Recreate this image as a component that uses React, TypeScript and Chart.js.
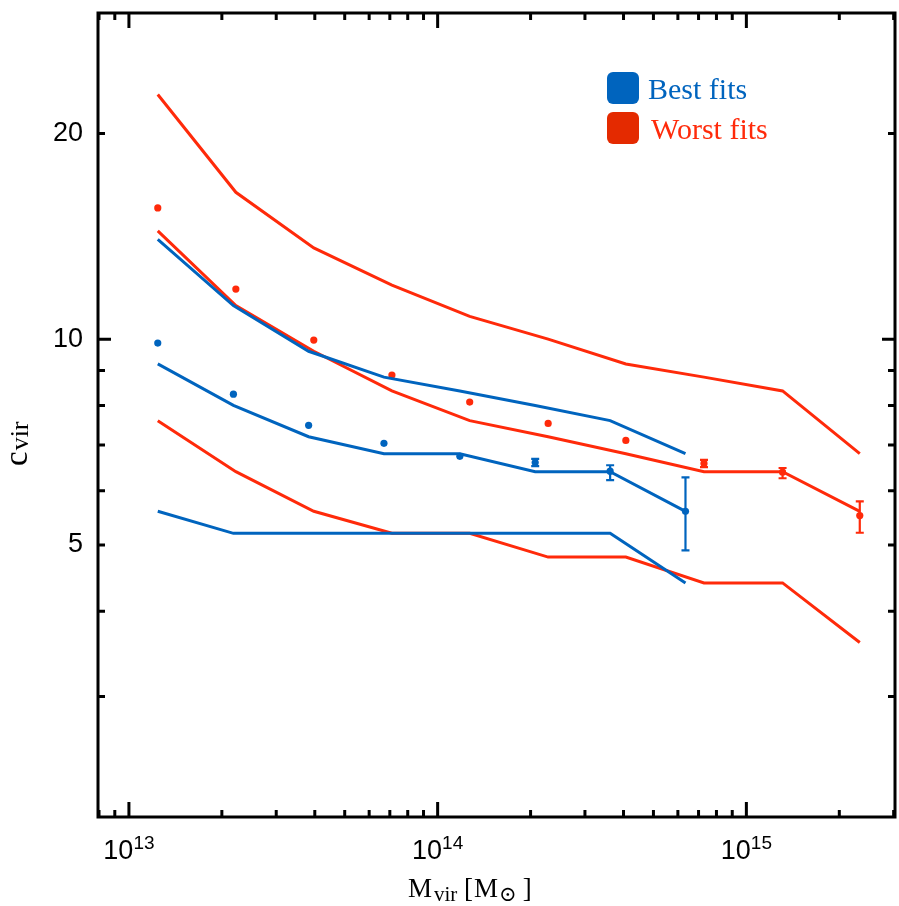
import React, { useEffect, useRef } from 'react';
import { Chart, registerables } from 'chart.js';
Chart.register(...registerables);

// Halo masses (M_sun) of the bins
const blueMass = [1.24e13, 2.18e13, 3.82e13, 6.70e13, 1.18e14, 2.07e14, 3.62e14, 6.35e14];
const redMass = [1.24e13, 2.22e13, 3.97e13, 7.11e13, 1.27e14, 2.28e14, 4.07e14, 7.29e14, 1.31e15, 2.33e15];

// Best fits: percentile lines
const blueUpper = [14.0, 11.2, 9.6, 8.8, 8.4, 8.0, 7.6, 6.8];
const blueMedian = [9.2, 8.0, 7.2, 6.8, 6.8, 6.4, 6.4, 5.6];
const blueLower = [5.6, 5.2, 5.2, 5.2, 5.2, 5.2, 5.2, 4.4];
// Best fits: mean points and errors
const blueMean = [9.87, 8.31, 7.48, 7.04, 6.74, 6.60, 6.41, 5.60];
const blueErrUp = [0, 0, 0, 0, 0, 0.08, 0.13, 0.68];
const blueErrDn = [0, 0, 0, 0, 0, 0.08, 0.19, 0.69];

// Worst fits: percentile lines
const redUpper = [22.8, 16.4, 13.6, 12.0, 10.8, 10.0, 9.2, 8.8, 8.4, 6.8];
const redMedian = [14.4, 11.2, 9.6, 8.4, 7.6, 7.2, 6.8, 6.4, 6.4, 5.6];
const redLower = [7.6, 6.4, 5.6, 5.2, 5.2, 4.8, 4.8, 4.4, 4.4, 3.6];
// Worst fits: mean points and errors
const redMean = [15.56, 11.84, 9.97, 8.86, 8.09, 7.53, 7.11, 6.58, 6.39, 5.52];
const redErrUp = [0, 0, 0, 0, 0, 0, 0, 0.08, 0.09, 0.27];
const redErrDn = [0, 0, 0, 0, 0, 0, 0, 0.08, 0.13, 0.31];

// Axes
const xMin = 7.94e12;
const xMax = 3.03e15;
const yMin = 2.0;
const yMax = 30.0;
const xMajorExps = [13, 14, 15];
const yTickValues = [3, 4, 5, 6, 7, 8, 9, 10, 20];
const yLabelValues = [5, 10, 20];
const yMajorValues = [10];

const legendLabels = ['Best fits', 'Worst fits'];

const BLUE = '#0064be';
const RED = '#ff2a0a';
const RED_LEGEND = '#e42a00';

export default function App() {
  const ref = useRef<HTMLCanvasElement>(null);

  useEffect(() => {
    document.body.style.margin = '0';
    const canvas = ref.current!;
    const pts = (xs: number[], ys: number[]) => xs.map((x, i) => ({ x, y: ys[i] }));
    const lineDs = (label: string, xs: number[], ys: number[], color: string) => ({
      label,
      data: pts(xs, ys),
      showLine: true,
      borderColor: color,
      backgroundColor: color,
      borderWidth: 3,
      pointRadius: 0,
      pointHoverRadius: 0,
      fill: false,
      tension: 0,
      borderJoinStyle: 'miter',
    });
    const dotDs = (label: string, xs: number[], ys: number[], color: string, up: number[], dn: number[]) => ({
      label,
      data: pts(xs, ys),
      showLine: false,
      pointRadius: 3.6,
      pointBorderWidth: 0,
      pointBackgroundColor: color,
      backgroundColor: color,
      borderColor: color,
      errUp: up,
      errDn: dn,
    });

    const errorBars = {
      id: 'errorBars',
      afterDatasetsDraw(chart: any) {
        const c = chart.ctx;
        const xs = chart.scales.x;
        const ys = chart.scales.y;
        chart.data.datasets.forEach((ds: any) => {
          if (!ds.errUp) return;
          c.save();
          c.strokeStyle = ds.borderColor;
          c.lineWidth = 2.2;
          ds.data.forEach((p: any, i: number) => {
            const u = ds.errUp[i];
            const d = ds.errDn[i];
            if (!u && !d) return;
            const px = xs.getPixelForValue(p.x);
            const pt = ys.getPixelForValue(p.y + u);
            const pb = ys.getPixelForValue(p.y - d);
            c.beginPath();
            c.moveTo(px, pt);
            c.lineTo(px, pb);
            c.moveTo(px - 4, pt);
            c.lineTo(px + 4, pt);
            c.moveTo(px - 4, pb);
            c.lineTo(px + 4, pb);
            c.stroke();
          });
          c.restore();
        });
      },
    };

    const frame = {
      id: 'frame',
      afterDraw(chart: any) {
        const c = chart.ctx;
        const a = chart.chartArea;
        const xs = chart.scales.x;
        const ys = chart.scales.y;
        c.save();
        c.strokeStyle = '#000';
        c.lineWidth = 3;
        c.lineCap = 'butt';
        c.strokeRect(a.left, a.top, a.right - a.left, a.bottom - a.top);
        // x ticks
        c.beginPath();
        for (let e = 12; e <= 15; e++) {
          for (let m = 1; m <= 9; m++) {
            const v = m * Math.pow(10, e);
            if (v <= xMin || v >= xMax) continue;
            const px = xs.getPixelForValue(v);
            const len = m === 1 ? 15 : 7;
            c.moveTo(px, a.bottom);
            c.lineTo(px, a.bottom - len);
            c.moveTo(px, a.top);
            c.lineTo(px, a.top + len);
          }
        }
        // y ticks
        yTickValues.forEach((v) => {
          const py = ys.getPixelForValue(v);
          const len = yMajorValues.includes(v) ? 13 : 7;
          c.moveTo(a.left, py);
          c.lineTo(a.left + len, py);
          c.moveTo(a.right, py);
          c.lineTo(a.right - len, py);
        });
        c.stroke();

        // x tick labels 10^n
        c.fillStyle = '#000';
        c.textBaseline = 'alphabetic';
        c.textAlign = 'left';
        const mainF = '27px "Liberation Sans", Arial, Helvetica, sans-serif';
        const supF = '19px "Liberation Sans", Arial, Helvetica, sans-serif';
        xMajorExps.forEach((e) => {
          const px = xs.getPixelForValue(Math.pow(10, e));
          c.font = mainF;
          const w1 = c.measureText('10').width;
          c.font = supF;
          const w2 = c.measureText(String(e)).width;
          const start = px - (w1 + w2) / 2;
          c.font = mainF;
          c.fillText('10', start, 859);
          c.font = supF;
          c.fillText(String(e), start + w1, 849);
        });

        // x title
        const serif = '"Liberation Serif", "Times New Roman", "DejaVu Serif", serif';
        const segs = [
          { t: 'M', s: 27, dy: 0, gap: 2 },
          { t: 'vir', s: 21, dy: 4, gap: 0 },
          { t: ' [', s: 27, dy: 0, gap: 1 },
          { t: 'M', s: 27, dy: 0, gap: 1 },
          { t: '\u2299', s: 21, dy: 4, gap: 6 },
          { t: ']', s: 27, dy: 0, gap: 0 },
        ];
        let x = a.left + 310;
        segs.forEach((sg) => {
          c.font = `${sg.s}px ${serif}`;
          c.fillText(sg.t, x, 897 + sg.dy);
          x += c.measureText(sg.t).width + sg.gap;
        });

        // y title
        c.save();
        c.translate(27, 466);
        c.rotate(-Math.PI / 2);
        c.font = `33px ${serif}`;
        c.fillText('c', 0, 0);
        const wc = c.measureText('c').width;
        c.font = `26px ${serif}`;
        c.fillText('vir', wc + 1, 1);
        c.restore();

        // legend
        const colors = [BLUE, RED_LEGEND];
        const textColors = [BLUE, RED];
        legendLabels.forEach((lab, i) => {
          const top = a.top + 59 + i * 40;
          c.fillStyle = colors[i];
          c.beginPath();
          (c as any).roundRect(a.left + 509, top, 32, 32, 6);
          c.fill();
          c.fillStyle = textColors[i];
          c.font = `30px ${serif}`;
          c.fillText(lab, a.left + 550 + (i === 1 ? 3 : 0), top + 27);
        });
        c.restore();
      },
    };

    const chart = new Chart(canvas, {
      type: 'scatter',
      data: {
        datasets: [
          lineDs('Best upper', blueMass, blueUpper, BLUE),
          lineDs('Best median', blueMass, blueMedian, BLUE),
          lineDs('Best lower', blueMass, blueLower, BLUE),
          lineDs('Worst upper', redMass, redUpper, RED),
          lineDs('Worst median', redMass, redMedian, RED),
          lineDs('Worst lower', redMass, redLower, RED),
          dotDs('Best mean', blueMass, blueMean, BLUE, blueErrUp, blueErrDn),
          dotDs('Worst mean', redMass, redMean, RED, redErrUp, redErrDn),
        ] as any,
      },
      options: {
        responsive: false,
        animation: false,
        devicePixelRatio: 1,
        layout: { padding: { left: 0, right: 2, top: 13, bottom: 0 } },
        plugins: { legend: { display: false }, tooltip: { enabled: false } },
        events: [],
        scales: {
          x: {
            type: 'logarithmic',
            min: xMin,
            max: xMax,
            bounds: 'data',
            grid: { display: false, drawTicks: false },
            border: { display: false },
            ticks: { display: false },
            afterBuildTicks: (s: any) => {
              s.ticks = xMajorExps.map((e) => ({ value: Math.pow(10, e) }));
            },
            afterFit: (s: any) => {
              s.height = 89;
              s.paddingLeft = 0;
              s.paddingRight = 0;
            },
          },
          y: {
            type: 'logarithmic',
            min: yMin,
            max: yMax,
            bounds: 'data',
            grid: { display: false, drawTicks: false },
            border: { display: false },
            ticks: {
              color: '#000',
              padding: 15,
              autoSkip: false,
              font: { family: '"Liberation Sans", Arial, Helvetica, sans-serif', size: 27 },
              callback: (v: any) => (yLabelValues.includes(Number(v)) ? String(v) : ''),
            },
            afterBuildTicks: (s: any) => {
              s.ticks = yTickValues.map((v) => ({ value: v }));
            },
            afterFit: (s: any) => {
              s.width = 98;
              s.paddingTop = 0;
              s.paddingBottom = 0;
            },
          },
        },
      } as any,
      plugins: [errorBars, frame],
    });
    return () => chart.destroy();
  }, []);

  return (
    <div style={{ position: 'absolute', left: 0, top: 0, width: 899, height: 906, background: '#fff' }}>
      <canvas ref={ref} width={899} height={906} style={{ display: 'block' }} />
    </div>
  );
}
